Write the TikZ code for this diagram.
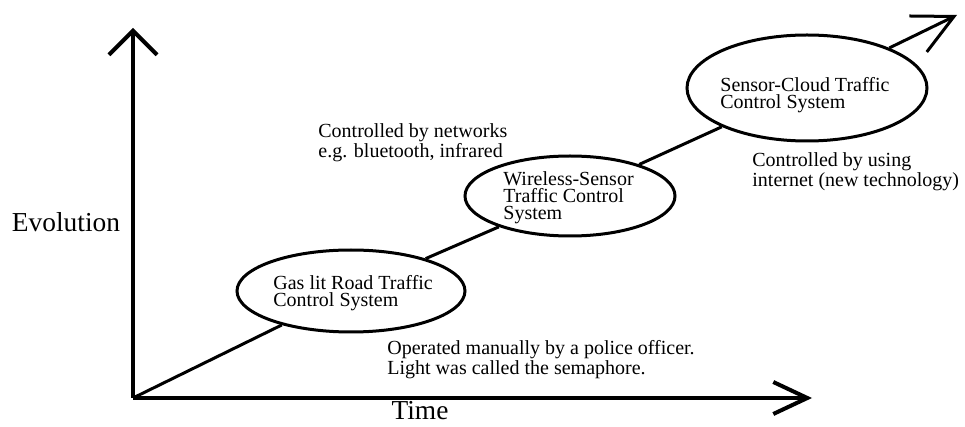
\documentclass[tikz,border=0pt]{standalone}
\usepackage{fontspec}
\setmainfont{Liberation Serif}
\usetikzlibrary{arrows.meta,shapes.geometric}
\begin{document}
\begin{tikzpicture}[x=0.5pt,y=-0.5pt,
    eje/.style={line width=2pt, -{Straight Barb[length=12pt,width=24pt]}},
    etapa/.style={draw, ellipse, line width=1.5pt, inner sep=0pt},
    texto/.style={anchor=west, align=left, inner sep=0pt, font=\fontsize{10}{8.5}\selectfont}]
    \useasboundingbox (0,0) rectangle (965,427);

    % Origen y extremos de los ejes
    \coordinate (o) at (133,398);
    \coordinate (ytip) at (133,28);
    \coordinate (xtip) at (812,398);
    \coordinate (dtip) at (957,15);

    % Ejes
    \draw[eje] (o) -- (ytip);
    \draw[eje, -{Straight Barb[length=17pt,width=16pt]}] (o) -- (xtip);

    % Etapas (elipses vacias, el texto va aparte)
    \node[etapa, minimum width=114pt, minimum height=41pt] (gas) at (351,291) {};
    \node[etapa, minimum width=105pt, minimum height=40pt] (wsn) at (570,196) {};
    \node[etapa, minimum width=120pt, minimum height=53pt] (cloud) at (807,88) {};

    % Linea de evolucion entre etapas
    \draw[line width=1.5pt] (o) -- (gas);
    \draw[line width=1.5pt] (gas) -- (wsn);
    \draw[line width=1.5pt] (wsn) -- (cloud);
    \draw[line width=1.5pt, -{Straight Barb[length=20pt,width=20pt]}] (cloud) -- (dtip);

    % Textos de las etapas
    \node[texto] (gas-txt) at (273,293) {Gas lit Road Traffic\\Control System};
    \node[texto] (wsn-txt) at (503,198) {Wireless-Sensor\\Traffic Control\\System};
    \node[texto] (cloud-txt) at (720,95) {Sensor-Cloud Traffic\\Control System};

    % Notas
    \node[texto] (net) at (318,143) {Controlled by networks\\e.g. bluetooth, infrared};
    \node[texto] (inet) at (752,172) {Controlled by using\\internet (new technology)};
    \node[texto] (manual) at (387,360) {Operated manually by a police officer.\\Light was called the semaphore.};

    % Rotulos de los ejes
    \node[font=\fontsize{13.7}{16}\selectfont] (evol) at (66,222) {Evolution};
    \node[font=\fontsize{13.7}{16}\selectfont] (time) at (420,411) {Time};
\end{tikzpicture}
\end{document}
